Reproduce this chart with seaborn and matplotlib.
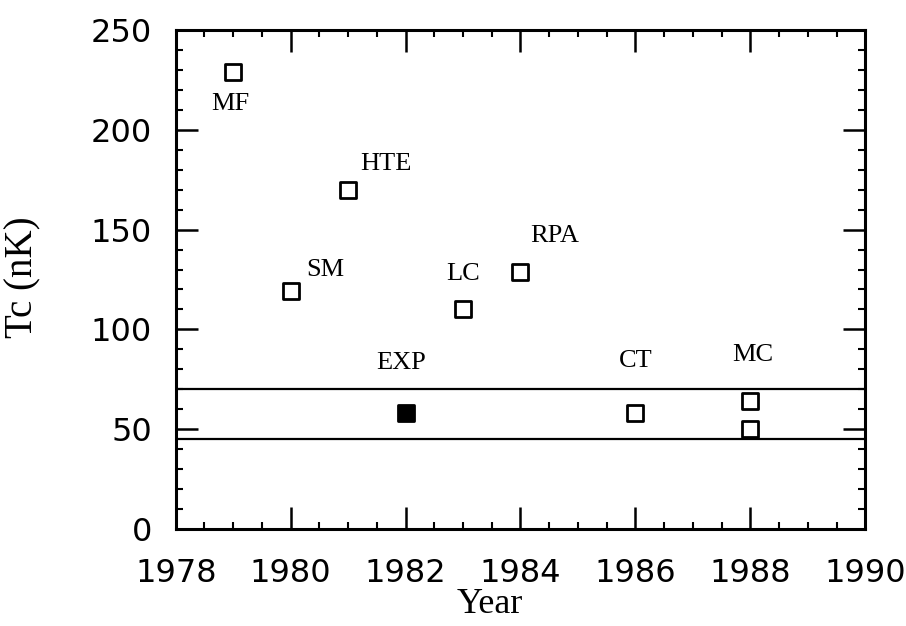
import matplotlib
matplotlib.use("Agg")
import matplotlib.pyplot as plt
import seaborn as sns
import pandas as pd
from matplotlib.ticker import MultipleLocator

# Data
years = [1979, 1980, 1981, 1982, 1983, 1984, 1986, 1988, 1988]
tc_values = [229, 119, 170, 58, 110, 129, 58, 64, 50]
filled = [False, False, False, True, False, False, False, False, False]

label_texts = ["MF", "SM", "HTE", "LC", "RPA", "EXP", "CT", "MC"]
label_x = [1978.95, 1980.6, 1981.65, 1983.0, 1984.6, 1981.93, 1986.0, 1988.05]
label_y = [213, 130, 183, 128, 147, 83, 84, 87]

band_limits = [45, 70]

x_ticks = [1978, 1980, 1982, 1984, 1986, 1988, 1990]
y_ticks = [0, 50, 100, 150, 200, 250]

df = pd.DataFrame({"Year": years, "Tc": tc_values, "filled": filled})

sns.set_style("ticks")
plt.rcParams["font.family"] = ["DejaVu Sans"]

fig = plt.figure(figsize=(9.06, 6.26), dpi=100)
ax = fig.add_axes([0.194, 0.155, 0.761, 0.797])

for y in band_limits:
    ax.axhline(y, color="black", lw=1.6, zorder=1)

sns.scatterplot(data=df[~df["filled"]], x="Year", y="Tc", ax=ax, marker="s",
                s=125, facecolor="white", edgecolor="black", linewidth=2.0, zorder=3)
sns.scatterplot(data=df[df["filled"]], x="Year", y="Tc", ax=ax, marker="s",
                s=125, color="black", edgecolor="black", linewidth=2.0, zorder=3)

for t, x, y in zip(label_texts, label_x, label_y):
    ax.text(x, y, t, ha="center", va="center", fontsize=19,
            family="Liberation Serif", color="black")

ax.set_xlim(1978, 1990)
ax.set_ylim(0, 250)
ax.set_xticks(x_ticks)
ax.set_yticks(y_ticks)
ax.xaxis.set_minor_locator(MultipleLocator(0.5))
ax.yaxis.set_minor_locator(MultipleLocator(10))
ax.tick_params(which="both", direction="in", top=True, right=True,
               color="black", labelcolor="black")
ax.tick_params(which="major", length=16, width=1.8, labelsize=23)
ax.tick_params(axis="x", which="major", pad=21)
ax.tick_params(axis="y", which="major", pad=17)
ax.tick_params(which="minor", length=5, width=1.5)
for s in ax.spines.values():
    s.set_linewidth(2.2)
    s.set_color("black")

ax.set_xlabel("Year", fontsize=26, family="Liberation Serif", color="black")
ax.set_ylabel("Tc (nK)", fontsize=28, family="Liberation Serif", color="black")
ax.xaxis.set_label_coords(0.456, -0.118)
ax.yaxis.set_label_coords(-0.195, 0.505)

fig.savefig("out.png", dpi=100)
